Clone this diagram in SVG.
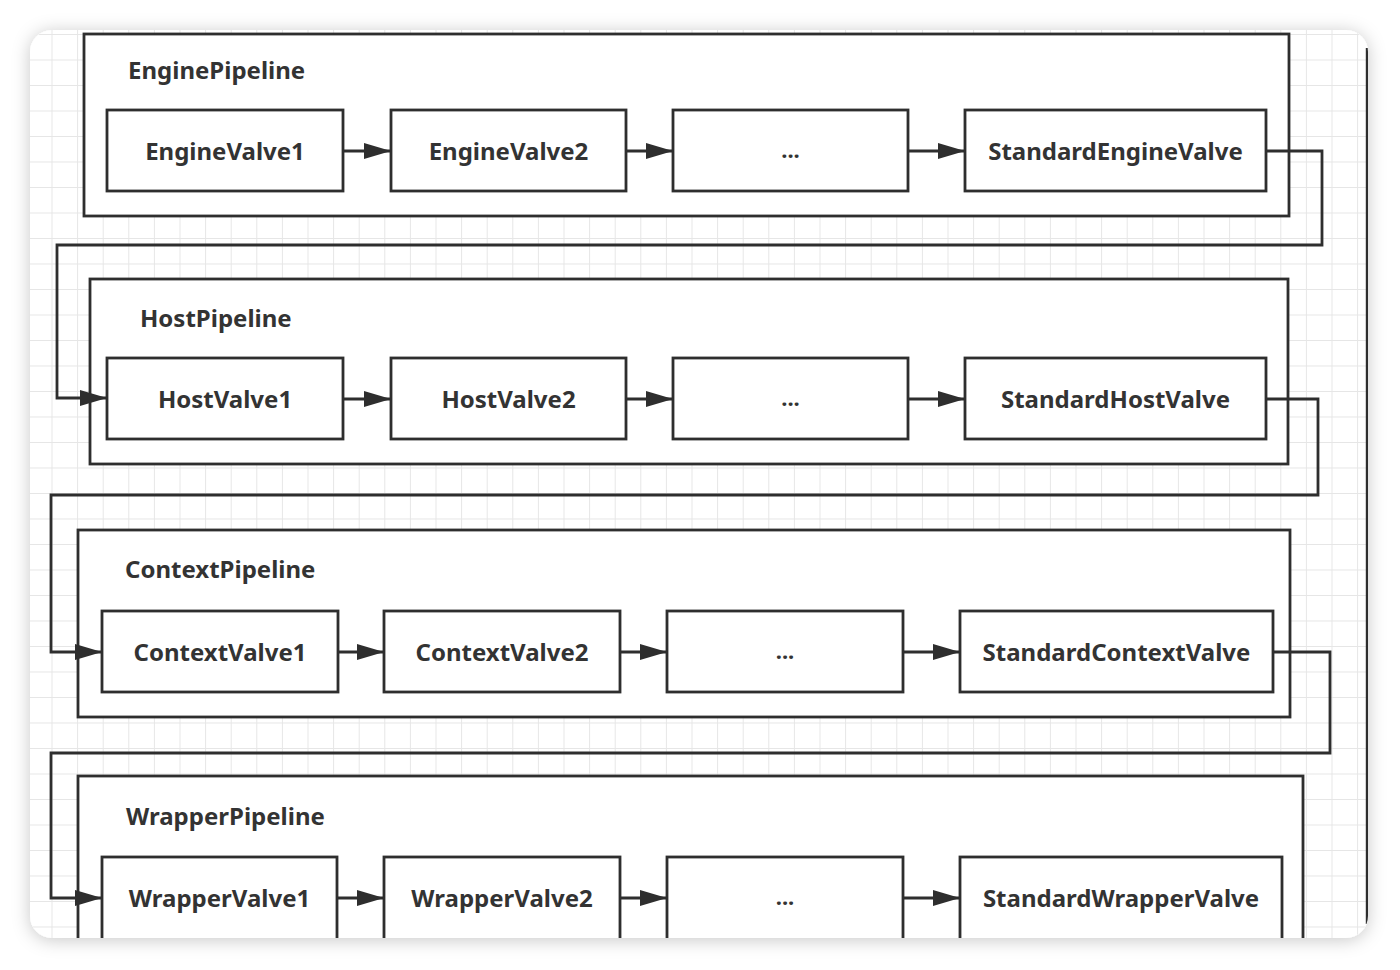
<svg xmlns="http://www.w3.org/2000/svg" width="1400" height="970" viewBox="0 0 1400 970">
  <defs>
    <style>
      .box { fill: #ffffff; stroke: #2e2e2e; stroke-width: 2.8; }
      .pipe { fill: #ffffff; stroke: #2e2e2e; stroke-width: 2.8; }
      .title { font-family: "Noto Sans", "Open Sans", sans-serif; font-weight: 700; font-size: 24px; fill: #333333; }
      .lbl { font-family: "Noto Sans", "Open Sans", sans-serif; font-weight: 700; font-size: 24px; fill: #333333; text-anchor: middle; }
      .dots { font-family: "Noto Sans", "Open Sans", sans-serif; font-weight: 700; font-size: 22px; fill: #333333; text-anchor: middle; }
      .conn { fill: none; stroke: #2e2e2e; stroke-width: 2.8; marker-end: url(#arrow); }
    </style>
    <marker id="arrow" markerUnits="userSpaceOnUse" markerWidth="30" markerHeight="20" refX="27" refY="8" orient="auto" overflow="visible">
      <path d="M0,0 L27,8 L0,16 Z" fill="#2e2e2e"/>
    </marker>
    <pattern id="grid" patternUnits="userSpaceOnUse" x="51.5" y="59.5" width="25.6" height="25.5">
      <rect x="0" y="0" width="1" height="25.5" fill="#e6e6e6"/>
      <rect x="0" y="0" width="25.6" height="1" fill="#e6e6e6"/>
    </pattern>
    <filter id="shadow" x="-5%" y="-5%" width="110%" height="110%">
      <feDropShadow dx="0" dy="2" stdDeviation="9" flood-color="#000000" flood-opacity="0.22"/>
    </filter>
    <clipPath id="cardClip">
      <rect x="30" y="30" width="1338" height="908" rx="22" ry="22"/>
    </clipPath>
  </defs>

  <rect x="0" y="0" width="1400" height="970" fill="#ffffff"/>
  <rect x="30" y="30" width="1338" height="908" rx="22" ry="22" fill="#ffffff" filter="url(#shadow)"/>

  <g clip-path="url(#cardClip)">
    <rect x="30" y="30" width="1338" height="908" fill="url(#grid)"/>
    <line x1="1367" y1="48" x2="1367" y2="924" stroke="#2e2e2e" stroke-width="2.4"/>

    <g id="engine-pipeline">
      <rect class="pipe" x="84" y="34" width="1205" height="182"/>
      <text class="title" x="128" y="79">EnginePipeline</text>
    </g>
    <g id="engine-valve1"><rect class="box" x="107" y="110" width="236" height="81"/><text class="lbl" x="225" y="160">EngineValve1</text></g>
    <g id="engine-valve2"><rect class="box" x="391" y="110" width="235" height="81"/><text class="lbl" x="508.5" y="160">EngineValve2</text></g>
    <g id="engine-etc"><rect class="box" x="673" y="110" width="235" height="81"/><text class="dots" x="790.5" y="158">...</text></g>
    <g id="standard-engine-valve"><rect class="box" x="965" y="110" width="301" height="81"/><text class="lbl" x="1115.5" y="160">StandardEngineValve</text></g>

    <g id="host-pipeline">
      <rect class="pipe" x="90" y="279" width="1198" height="185"/>
      <text class="title" x="140" y="327">HostPipeline</text>
    </g>
    <g id="host-valve1"><rect class="box" x="107" y="358" width="236" height="81"/><text class="lbl" x="225" y="408">HostValve1</text></g>
    <g id="host-valve2"><rect class="box" x="391" y="358" width="235" height="81"/><text class="lbl" x="508.5" y="408">HostValve2</text></g>
    <g id="host-etc"><rect class="box" x="673" y="358" width="235" height="81"/><text class="dots" x="790.5" y="406">...</text></g>
    <g id="standard-host-valve"><rect class="box" x="965" y="358" width="301" height="81"/><text class="lbl" x="1115.5" y="408">StandardHostValve</text></g>

    <g id="context-pipeline">
      <rect class="pipe" x="78" y="530" width="1212" height="187"/>
      <text class="title" x="125" y="578">ContextPipeline</text>
    </g>
    <g id="context-valve1"><rect class="box" x="102" y="611" width="236" height="81"/><text class="lbl" x="220" y="661">ContextValve1</text></g>
    <g id="context-valve2"><rect class="box" x="384" y="611" width="236" height="81"/><text class="lbl" x="502" y="661">ContextValve2</text></g>
    <g id="context-etc"><rect class="box" x="667" y="611" width="236" height="81"/><text class="dots" x="785" y="659">...</text></g>
    <g id="standard-context-valve"><rect class="box" x="960" y="611" width="313" height="81"/><text class="lbl" x="1116.5" y="661">StandardContextValve</text></g>

    <g id="wrapper-pipeline">
      <rect class="pipe" x="78" y="776" width="1225" height="200"/>
      <text class="title" x="126" y="825">WrapperPipeline</text>
    </g>
    <g id="wrapper-valve1"><rect class="box" x="102" y="857" width="235" height="100"/><text class="lbl" x="219.5" y="907">WrapperValve1</text></g>
    <g id="wrapper-valve2"><rect class="box" x="384" y="857" width="236" height="100"/><text class="lbl" x="502" y="907">WrapperValve2</text></g>
    <g id="wrapper-etc"><rect class="box" x="667" y="857" width="236" height="100"/><text class="dots" x="785" y="905">...</text></g>
    <g id="standard-wrapper-valve"><rect class="box" x="960" y="857" width="322" height="100"/><text class="lbl" x="1121" y="907">StandardWrapperValve</text></g>

    <g id="connectors">
      <line class="conn" x1="343" y1="151" x2="391" y2="151"/>
      <line class="conn" x1="626" y1="151" x2="673" y2="151"/>
      <line class="conn" x1="908" y1="151" x2="965" y2="151"/>
      <polyline class="conn" points="1266,151 1322,151 1322,245 57,245 57,398 107,398"/>

      <line class="conn" x1="343" y1="399" x2="391" y2="399"/>
      <line class="conn" x1="626" y1="399" x2="673" y2="399"/>
      <line class="conn" x1="908" y1="399" x2="965" y2="399"/>
      <polyline class="conn" points="1266,399 1318,399 1318,495 51,495 51,652 102,652"/>

      <line class="conn" x1="338" y1="652" x2="384" y2="652"/>
      <line class="conn" x1="620" y1="652" x2="667" y2="652"/>
      <line class="conn" x1="903" y1="652" x2="960" y2="652"/>
      <polyline class="conn" points="1273,652 1330,652 1330,753 51,753 51,898 102,898"/>

      <line class="conn" x1="337" y1="898" x2="384" y2="898"/>
      <line class="conn" x1="620" y1="898" x2="667" y2="898"/>
      <line class="conn" x1="903" y1="898" x2="960" y2="898"/>
    </g>
  </g>
</svg>
